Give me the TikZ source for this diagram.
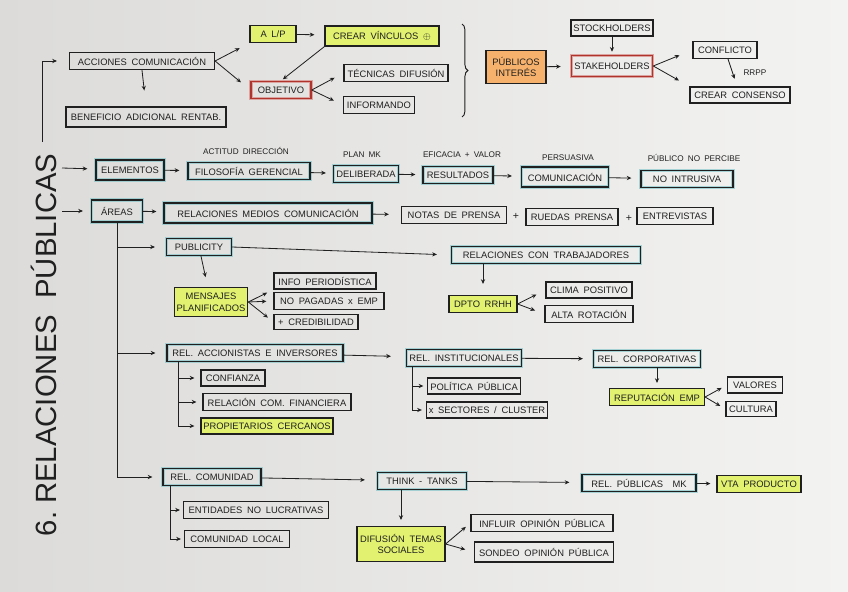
\documentclass[tikz,border=0pt]{standalone}
\usepackage{fontspec}
\setmainfont{Liberation Sans}[WordSpace=1.8]
\newfontfamily\titlefont{Liberation Sans}
\usepackage{tikz}
\usetikzlibrary{positioning, arrows.meta, decorations.pathreplacing}
\definecolor{InkBlack}{RGB}{32,32,32}
\definecolor{MarkYellow}{RGB}{226,242,112}
\definecolor{MarkOrange}{RGB}{246,178,108}
\definecolor{MarkRed}{RGB}{176,52,44}
\definecolor{MarkTeal}{RGB}{120,192,198}
\definecolor{PaperDark}{RGB}{220,219,217}
\definecolor{PaperLight}{RGB}{243,243,242}
\tikzset{
  box/.style={draw=InkBlack, line width=1pt, minimum height=0.51cm, inner sep=2pt,
    font=\fontsize{8}{10}\selectfont, text=InkBlack, align=center},
  bw/.style={minimum width=#1*0.03cm},
  bh/.style={minimum height=#1*0.03cm},
  hlbox/.style={box, preaction={draw=MarkTeal, line width=3.2pt, opacity=0.6}},
  yelbox/.style={box, fill=MarkYellow},
  orgbox/.style={box, fill=MarkOrange},
  redbox/.style={box, draw=MarkRed, line width=1.3pt, preaction={draw=MarkRed!45, line width=3.2pt}},
  note/.style={font=\fontsize{7}{8}\selectfont, text=InkBlack, inner sep=1pt},
  arr/.style={-{Stealth[length=4pt,width=3.6pt]}, line width=0.7pt, InkBlack, shorten >=2pt},
  gap/.style={shorten >=#1*0.03cm},
}
\begin{document}
\begin{tikzpicture}[x=0.03cm, y=-0.03cm, >=Stealth]
  \shade[left color=PaperDark, right color=PaperLight] (0,0) rectangle (848,591);
  \useasboundingbox (0,0) rectangle (848,591);

  \node[rotate=90, font=\titlefont\fontsize{25}{27}\selectfont, text=InkBlack] (title) at (44,345) {6.~RELACIONES~~PÚBLICAS};

  % acciones / publicos
  \node[box, bw=145] (acc) at (142,61) {ACCIONES COMUNICACIÓN};
  \node[box, bw=160, bh=20] (ben) at (146,117) {BENEFICIO ADICIONAL RENTAB.};
  \node[yelbox, bw=46] (alp) at (273,34) {A L/P};
  \node[yelbox, bw=114, bh=20] (cv) at (382,36) {CREAR VÍNCULOS $\oplus$};
  \node[redbox, bw=60] (obj) at (281,90) {OBJETIVO};
  \node[box, bw=104] (tec) at (396,73) {TÉCNICAS DIFUSIÓN};
  \node[box, bw=71] (inf) at (379,105) {INFORMANDO};
  \node[orgbox, bw=60, bh=33] (pint) at (516,67) {PÚBLICOS\\INTERÉS};
  \node[redbox, bw=81, bh=21] (stk) at (612,66) {STAKEHOLDERS};
  \node[box, bw=78, bh=16] (stock) at (612,28) {STOCKHOLDERS};
  \node[box, bw=64] (con) at (725,50) {CONFLICTO};
  \node[box, bw=100, bh=16] (cc) at (740,95) {CREAR CONSENSO};

  \coordinate (ttop) at (42,142);
  \draw[arr, gap=12] (ttop) |- (acc);
  \draw[arr, gap=16] (acc.south) -- (ben.north);
  \draw[arr, gap=11] (acc.east) -- (alp.south west);
  \draw[arr, gap=12] (acc.east) -- (obj.west);
  \draw[arr, gap=10] (alp) -- (cv);
  \draw[arr] (cv.south west) -- (obj.north);
  \draw[arr, gap=10] (obj.east) -- (tec.west);
  \draw[arr, gap=10] (obj.east) -- (inf.west);
  \coordinate (brT) at (462,24);
  \coordinate (brB) at (462,117);
  \draw[decorate, decoration={brace, amplitude=5pt}, line width=0.8pt, InkBlack] (brT) -- (brB);
  \draw[arr, gap=10] (pint) -- (stk);
  \draw[arr, gap=3] (stock) -- (stk);
  \draw[arr, gap=14] (stk.east) -- (con.west);
  \draw[arr, gap=12] (stk.east) -- (cc.north west);
  \draw[arr, gap=8] (con) -- node[note, right=8pt] {RRPP} (cc);

  % elementos
  \node[hlbox, bw=68, bh=20] (ele) at (130,170) {ELEMENTOS};
  \node[hlbox, bw=122] (fil) at (249,171) {FILOSOFÍA GERENCIAL};
  \node[hlbox, bw=65] (del) at (366,174) {DELIBERADA};
  \node[hlbox, bw=70] (res) at (458,175) {RESULTADOS};
  \node[hlbox, bw=87, bh=20] (com) at (565,177) {COMUNICACIÓN};
  \node[hlbox, bw=92] (nin) at (687,179) {NO INTRUSIVA};
  \node[note] (l1) at (246,151) {ACTITUD DIRECCIÓN};
  \node[note] (l2) at (362,155) {PLAN MK};
  \node[note] (l3) at (462,155) {EFICACIA + VALOR};
  \node[note] (l4) at (568,158) {PERSUASIVA};
  \node[note] (l5) at (694,158) {PÚBLICO NO PERCIBE};
  \coordinate (e0) at (62,168);
  \draw[arr, gap=8] (e0) -- (ele);
  \draw[arr, gap=8] (ele) -- (fil);
  \draw[arr, gap=7] (fil) -- (del);
  \draw[arr, gap=7] (del) -- (res);
  \draw[arr, gap=9] (res) -- (com);
  \draw[arr, gap=9] (com) -- (nin);

  % areas
  \node[hlbox, bw=51, bh=22] (areas) at (117,211) {ÁREAS};
  \node[hlbox, bw=208, bh=20] (rmc) at (268,213) {RELACIONES MEDIOS COMUNICACIÓN};
  \node[box, bw=105] (np) at (454,215) {NOTAS DE PRENSA};
  \node[note, font=\small] (plus1) at (516,216) {+};
  \node[box, bw=92] (rp) at (572,217) {RUEDAS PRENSA};
  \node[note, font=\small] (plus2) at (629,218) {+};
  \node[box, bw=76] (ent) at (675,216) {ENTREVISTAS};
  \coordinate (a0) at (62,211);
  \draw[arr, gap=8] (a0) -- (areas);
  \draw[arr, gap=7] (areas) -- (rmc);
  \draw[arr, gap=12] (rmc) -- (np);

  % publicity
  \node[hlbox, bw=65] (pub) at (199,247) {PUBLICITY};
  \node[hlbox, bw=189] (rct) at (546,255) {RELACIONES CON TRABAJADORES};
  \node[yelbox, bw=72, bh=29] (men) at (211,302) {MENSAJES\\PLANIFICADOS};
  \node[box, bw=102, bh=16] (info) at (325,281) {INFO PERIODÍSTICA};
  \node[box, bw=110] (nop) at (329,301) {NO PAGADAS x EMP};
  \node[box, bw=84, bh=15] (cred) at (316,322) {+ CREDIBILIDAD};
  \node[yelbox, bw=68] (dpto) at (483,304) {DPTO RRHH};
  \node[box, bw=86, bh=16] (cli) at (589,290) {CLIMA POSITIVO};
  \node[box, bw=88] (alta) at (589,314) {ALTA ROTACIÓN};
  \draw[arr, gap=14] (pub.east) -- (rct.west);
  \draw[arr, gap=10] (pub) -- (men);
  \draw[arr, gap=7] (men.east) -- (info.south west);
  \draw[arr, gap=7] (men.east) -- (nop.west);
  \draw[arr, gap=7] (men.east) -- (cred.west);
  \draw[arr, gap=11] (rct.south -| dpto) -- (dpto);
  \draw[arr, gap=10] (dpto.east) -- (cli.west);
  \draw[arr, gap=10] (dpto.east) -- (alta.west);

  % accionistas
  \node[hlbox, bw=176] (rai) at (255,353) {REL. ACCIONISTAS E INVERSORES};
  \node[hlbox, bw=115] (rin) at (464,358) {REL. INSTITUCIONALES};
  \node[box, bw=64, bh=16] (conf) at (233,378) {CONFIANZA};
  \node[box, bw=148] (rcf) at (277,402) {RELACIÓN COM. FINANCIERA};
  \node[yelbox, bw=127, bh=16] (prop) at (267,426) {PROPIETARIOS CERCANOS};
  \node[box, bw=91, bh=16] (pol) at (474,386) {POLÍTICA PÚBLICA};
  \node[box, bw=117, bh=16] (sec) at (487,410) {x SECTORES / CLUSTER};
  \node[hlbox, bw=107] (rcor) at (647,359) {REL. CORPORATIVAS};
  \node[yelbox, bw=95] (rep) at (657,397) {REPUTACIÓN EMP};
  \node[box, bw=55, bh=16] (val) at (755,385) {VALORES};
  \node[box, bw=50, bh=15] (cul) at (751,409) {CULTURA};
  \coordinate (raiT) at ([xshift=0.36cm]rai.south west);
  \coordinate (rinT) at ([xshift=0.18cm]rin.south west);
  \draw[arr, gap=15] (rai) -- (rin);
  \draw[arr, gap=6] (raiT) |- (prop);
  \draw[arr, gap=6] (raiT |- conf) -- (conf);
  \draw[arr, gap=6] (raiT |- rcf) -- (rcf);
  \draw[arr, gap=4] (rinT) |- (sec);
  \draw[arr, gap=4] (rinT |- pol) -- (pol);
  \draw[arr, gap=10] (rin) -- (rcor);
  \draw[arr, gap=5] (rcor.south -| rep) -- (rep);
  \draw[arr, gap=6] (rep.east) -- (val.west);
  \draw[arr, gap=6] (rep.east) -- (cul.west);

  % comunidad
  \node[hlbox, bw=98] (rcom) at (212,477) {REL. COMUNIDAD};
  \node[hlbox, bw=89] (tt) at (422,481) {THINK - TANKS};
  \node[hlbox, bw=114] (rpm) at (639,483) {REL. PÚBLICAS\ \ MK};
  \node[yelbox, bw=84] (vta) at (759,484) {VTA PRODUCTO};
  \node[box, bw=145] (enl) at (256,510) {ENTIDADES NO LUCRATIVAS};
  \node[box, bw=105] (cloc) at (237,539) {COMUNIDAD LOCAL};
  \node[yelbox, bw=88, bh=35] (dif) at (401,544) {DIFUSIÓN TEMAS\\SOCIALES};
  \node[box, bw=142] (infl) at (542,523) {INFLUIR OPINIÓN PÚBLICA};
  \node[box, bw=139, bh=20] (son) at (544,552) {SONDEO OPINIÓN PÚBLICA};
  \coordinate (rcomT) at ([xshift=0.24cm]rcom.south west);
  \draw[arr, gap=12] (rcom) -- (tt);
  \draw[arr, gap=12] (tt) -- (rpm);
  \draw[arr, gap=6] (rpm) -- (vta);
  \draw[arr, gap=3] (rcomT) |- (cloc);
  \draw[arr, gap=3] (rcomT |- enl) -- (enl);
  \draw[arr, gap=6] (tt.south -| dif.north) -- (dif.north);
  \draw[arr, gap=6] (dif.east) -- (infl.west);
  \draw[arr, gap=9] (dif.east) -- (son.west);

  % areas trunk
  \draw[arr, gap=10] (areas.south) |- (rcom);
  \draw[arr, gap=11] (areas.south |- pub) -- (pub);
  \draw[arr, gap=11] (areas.south |- rai) -- (rai);
\end{tikzpicture}
\end{document}
